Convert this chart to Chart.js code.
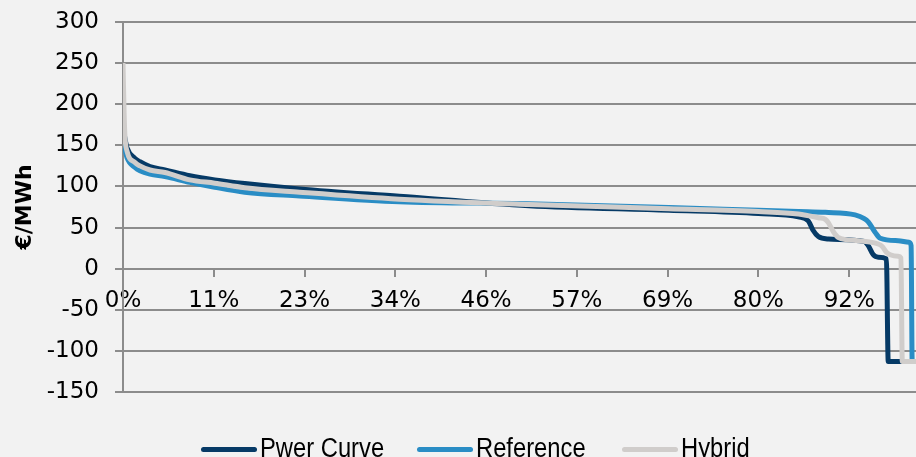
<!DOCTYPE html>
<html>
<head>
<meta charset="utf-8">
<script src="https://cdn.jsdelivr.net/npm/chart.js@4.4.1/dist/chart.umd.min.js"></script>
<style>
  html, body { margin: 0; padding: 0; background: #f2f2f2; }
  #wrap { position: relative; width: 916px; height: 457px; overflow: hidden; }
  #legend {
    position: absolute; left: 0; top: 432px; width: 916px; height: 32px;
    font-family: "Liberation Sans", Arial, sans-serif;
    font-size: 27px; color: #000; white-space: nowrap;
  }
  .swatch { position: absolute; top: 15px; width: 56px; height: 5px; border-radius: 3px; }
  .label { position: absolute; top: 0; line-height: 32px; transform: scaleX(0.88); transform-origin: left center; }
</style>
</head>
<body>
<div id="wrap">
  <canvas id="chart"></canvas>
  <div id="legend"></div>
</div>
<script>
// hours of the year sorted from highest to lowest price (8736 h)
const totalHours = 8736;
const xTickHours = [0, 1000, 2000, 3000, 4000, 5000, 6000, 7000, 8000];
const xTickLabels = ['0%', '11%', '23%', '34%', '46%', '57%', '69%', '80%', '92%'];

const seriesNames = ['Pwer Curve', 'Reference', 'Hybrid'];
const seriesColors = ['#063a66', '#2a8dc5', '#d0cdcb'];
const legendLeft = [201, 417, 622];

// price duration curves, €/MWh
const pwerHours  = [0, 22, 44, 132, 187, 297, 462, 736, 1011, 1341, 1945, 3044, 4473, 6012, 7001, 7440, 7550, 7600, 7660, 7770, 8166, 8210, 8265, 8320, 8410, 8430, 8736];
const pwerPrices = [172, 158, 147, 134, 130, 124, 120, 113, 108, 103.5, 97, 88, 76.5, 71, 67, 63, 58, 47, 39, 36, 33, 28, 17, 14, 12, -113, -113];

const refHours  = [0, 22, 44, 132, 187, 297, 462, 736, 1011, 1341, 1945, 3044, 4473, 6012, 7001, 7440, 7737, 8065, 8166, 8210, 8287, 8342, 8540, 8660, 8682, 8694, 8736];
const refPrices = [157, 145, 135, 123, 119, 115, 112, 105, 99, 93, 88.5, 81.5, 79, 74.5, 71, 69.5, 68.5, 65.5, 61, 57, 44, 37, 34, 32, 28, -113, -113];

const hybHours  = [0, 12, 22, 44, 132, 187, 297, 462, 736, 1011, 1341, 1945, 3044, 4473, 6012, 7001, 7440, 7660, 7737, 7770, 7825, 7880, 8100, 8320, 8364, 8410, 8452, 8540, 8570, 8585, 8736];
const hybPrices = [250, 190, 160, 143, 129, 125, 120, 117, 108, 104, 98.5, 93, 84.5, 78, 73, 69.5, 66.5, 62, 60, 56, 45, 38, 34, 30, 27, 20, 17, 15, 13, -113, -113];

const points = (hrs, vals) => hrs.map((h, i) => ({ x: h, y: vals[i] }));

const gridColor = '#8c8c8c';
const tickFont = { family: '"DejaVu Sans", sans-serif', size: 23 };

const datasets = [
  points(pwerHours, pwerPrices),
  points(refHours, refPrices),
  points(hybHours, hybPrices)
].map((data, i) => ({
  label: seriesNames[i],
  data: data,
  borderColor: seriesColors[i],
  backgroundColor: seriesColors[i],
  borderWidth: 5,
  borderJoinStyle: 'round',
  pointRadius: 0,
  cubicInterpolationMode: 'monotone',
  order: 3 - i
}));

new Chart(document.getElementById('chart'), {
  type: 'line',
  data: { datasets },
  options: {
    responsive: true,
    maintainAspectRatio: false,
    animation: false,
    layout: { padding: { top: 22, right: 0, bottom: 65, left: 0 } },
    plugins: { legend: { display: false }, tooltip: { enabled: false } },
    scales: {
      x: {
        type: 'linear',
        position: { y: 0 },
        min: 0,
        max: totalHours,
        afterBuildTicks: s => { s.ticks = xTickHours.map(v => ({ value: v })); },
        grid: { drawOnChartArea: false, drawTicks: true, tickLength: 7, color: gridColor, lineWidth: 2 },
        border: { display: true, color: gridColor, width: 2 },
        ticks: {
          maxRotation: 0,
          autoSkip: false,
          padding: 12,
          color: '#000',
          font: tickFont,
          callback: (v, i) => xTickLabels[i]
        }
      },
      y: {
        min: -150,
        max: 300,
        afterFit: s => { s.width = 123; s.paddingTop = 0; s.paddingBottom = 0; },
        grid: { color: gridColor, lineWidth: 2, tickLength: 8 },
        border: { display: true, color: gridColor, width: 2 },
        ticks: { stepSize: 50, padding: 16, color: '#000', font: tickFont },
        title: {
          display: true,
          text: '€/MWh',
          color: '#000',
          padding: { top: 12, bottom: 0 },
          font: { family: '"DejaVu Sans", sans-serif', size: 22, weight: 'bold' }
        }
      }
    }
  }
});

// legend row under the plot
const legend = document.getElementById('legend');
seriesNames.forEach((name, i) => {
  const sw = document.createElement('span');
  sw.className = 'swatch';
  sw.style.left = legendLeft[i] + 'px';
  sw.style.background = seriesColors[i];
  const txt = document.createElement('span');
  txt.className = 'label';
  txt.style.left = (legendLeft[i] + 59) + 'px';
  txt.textContent = name;
  legend.appendChild(sw);
  legend.appendChild(txt);
});
</script>
</body>
</html>
